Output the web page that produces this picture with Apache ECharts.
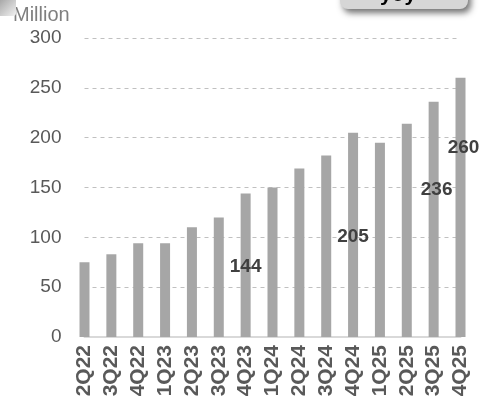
<!DOCTYPE html>
<html>
<head>
<meta charset="utf-8">
<script src="https://cdn.jsdelivr.net/npm/echarts@6/dist/echarts.min.js"></script>
<style>
  html, body { margin: 0; padding: 0; background: #ffffff; }
  #chart { width: 479px; height: 408px; }
</style>
</head>
<body>
<div id="chart"></div>
<script>
// Quarterly totals, in millions
const quarters = ['2Q22', '3Q22', '4Q22', '1Q23', '2Q23', '3Q23', '4Q23', '1Q24',
                  '2Q24', '3Q24', '4Q24', '1Q25', '2Q25', '3Q25', '4Q25'];
const values = [75, 83, 94, 94, 110, 120, 144, 150, 169, 182, 205, 195, 214, 236, 260];
// Quarters whose value is printed, with the label's drop below the bar top and side shift
const labelledQuarters = ['4Q23', '4Q24', '3Q25', '4Q25'];
const labelDrop = [73, 104, 88, 70];
const labelShift = [0, 0, 3, 3];
const yTicks = { min: 0, max: 300, interval: 50 };
const unitName = 'Million';
const badgeText = 'yoy';

const FONT = 'Arial, "Liberation Sans", sans-serif';

const barData = values.map((v, i) => {
  const k = labelledQuarters.indexOf(quarters[i]);
  if (k < 0) return v;
  return {
    value: v,
    label: {
      show: true,
      position: ['50%', labelDrop[k]],
      offset: [labelShift[k], 0],
      align: 'center',
      verticalAlign: 'middle',
      formatter: '{c}',
      fontFamily: FONT,
      fontSize: 19,
      fontWeight: 'bold',
      color: '#404040'
    }
  };
});

const chart = echarts.init(document.getElementById('chart'), null, { renderer: 'canvas' });
chart.setOption({
  animation: false,
  backgroundColor: '#ffffff',
  grid: { left: 84.5, right: 18.5, top: 38, bottom: 71, containLabel: false },
  xAxis: {
    type: 'category',
    data: quarters,
    boundaryGap: false,
    axisLine: { show: true, lineStyle: { color: '#d9d9d9', width: 2 } },
    axisTick: { show: false },
    axisLabel: {
      rotate: 90,
      margin: 8,
      interval: 0,
      fontFamily: FONT,
      fontSize: 21,
      fontWeight: 'bold',
      color: '#595959'
    },
    splitLine: { show: false }
  },
  yAxis: {
    type: 'value',
    min: yTicks.min,
    max: yTicks.max,
    interval: yTicks.interval,
    axisLine: { show: false },
    axisTick: { show: false },
    axisLabel: {
      margin: 23,
      fontFamily: FONT,
      fontSize: 19,
      color: '#595959'
    },
    splitLine: {
      show: true,
      lineStyle: { color: '#c0c0c0', width: 1, type: [4, 4] }
    }
  },
  series: [{
    type: 'bar',
    data: barData,
    barWidth: 10,
    clip: false,
    itemStyle: { color: '#a6a6a6' },
    label: { show: false }
  }],
  graphic: [
    {
      type: 'rect',
      left: -6, top: -6,
      shape: { width: 22, height: 22, r: 3 },
      style: {
        fill: {
          type: 'linear', x: 0, y: 0, x2: 1, y2: 1,
          colorStops: [{ offset: 0, color: '#8c8c8c' }, { offset: 1, color: '#f2f2f2' }]
        }
      },
      z: 1
    },
    {
      type: 'text',
      left: 13, top: 5,
      style: {
        text: unitName,
        font: '20px ' + FONT,
        fill: '#7f7f7f'
      }
    },
    {
      type: 'rect',
      shape: { x: 340, y: -24, width: 128, height: 33, r: 8 },
      style: {
        fill: '#d6d6d6',
        shadowBlur: 6,
        shadowOffsetX: 3,
        shadowOffsetY: 4,
        shadowColor: 'rgba(0,0,0,0.55)'
      },
      z: 5
    },
    {
      type: 'text',
      x: 398, y: -5,
      style: {
        text: badgeText,
        font: 'bold 21px ' + FONT,
        fill: '#000000',
        align: 'center',
        verticalAlign: 'middle'
      },
      z: 6
    }
  ]
});
</script>
</body>
</html>
